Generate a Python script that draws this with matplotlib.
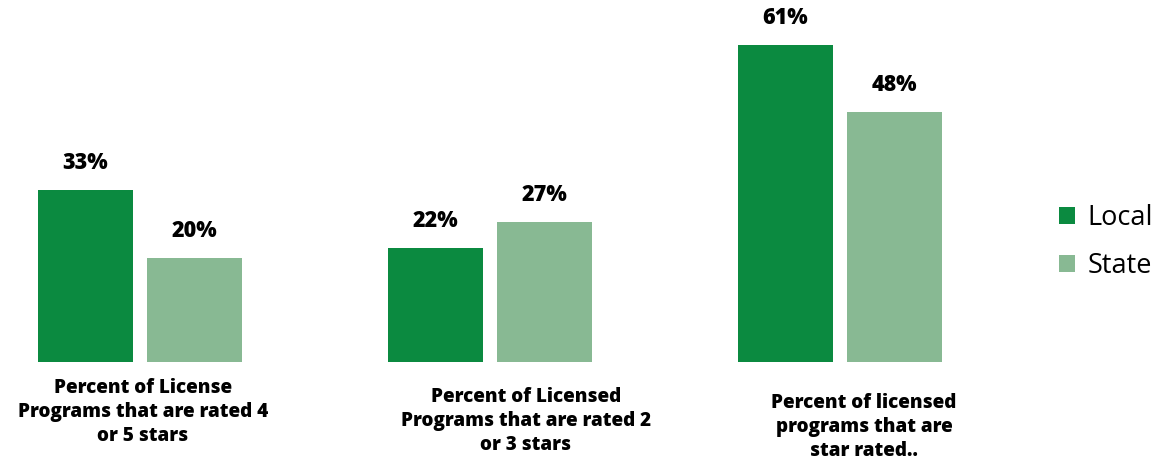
import numpy as np
import matplotlib
matplotlib.use("Agg")
import matplotlib.pyplot as plt

plt.rcParams['font.family'] = ['Open Sans', 'DejaVu Sans']

categories = [
    "Percent of License\nPrograms that are rated 4\nor 5 stars",
    "Percent of Licensed\nPrograms that are rated 2\nor 3 stars",
    "Percent of licensed\nprograms that are\nstar rated..",
]
local = [33, 22, 61]
state = [20, 27, 48]
series_names = ["Local", "State"]

LOCAL_COLOR = "#0b8a40"
STATE_COLOR = "#88b993"

fig = plt.figure(figsize=(11.54, 4.62), dpi=100)
ax = fig.add_axes([0, 100 / 462, 1000 / 1154, 362 / 462])

x = np.arange(len(categories))
width = 95 / 350
offset = 54.5 / 350

b1 = ax.bar(x - offset, local, width, color=LOCAL_COLOR, label=series_names[0])
b2 = ax.bar(x + offset, state, width, color=STATE_COLOR, label=series_names[1])

for bars in (b1, b2):
    for rect in bars:
        h = rect.get_height()
        ax.annotate(f"{h:.0f}%", (rect.get_x() + rect.get_width() / 2, h),
                    xytext=(0, 19.5), textcoords="offset points",
                    ha="center", va="center", fontsize=15.5, fontweight="heavy")

ax.set_xlim(-140 / 350, (1000 - 140) / 350)
ax.set_ylim(0, 362 / 5.2)
ax.axis("off")

# category captions sit below the bars, each a little lower than the last
label_pos = [(143, 412), (526, 421), (864, 427)]
for text, (px, py) in zip(categories, label_pos):
    fig.text(px / 1154, 1 - py / 462, text, ha="center", va="center",
             fontsize=13.6, fontweight="heavy", linespacing=1.25)

fig.legend(handles=[b1, b2], loc="center left",
           bbox_to_anchor=(1059 / 1154, 1 - 242 / 462), frameon=False,
           borderpad=0, borderaxespad=0, labelcolor="black",
           fontsize=19.5, handlelength=0.6, handleheight=0.6,
           handletextpad=0.45, labelspacing=0.75)

fig.savefig("out.png", dpi=100)
